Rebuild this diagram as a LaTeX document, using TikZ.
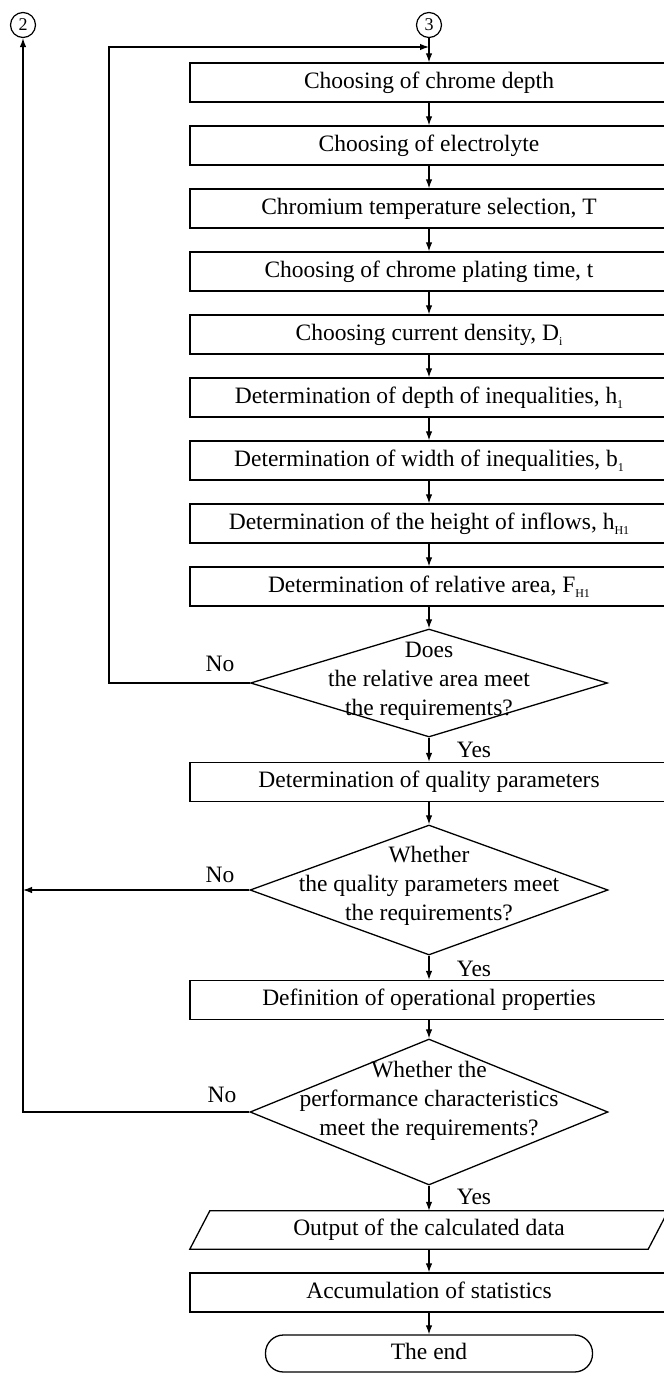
\documentclass[tikz,border=0pt]{standalone}
\usepackage{fontspec}
\setmainfont{Liberation Serif}
\usetikzlibrary{shapes.geometric,arrows.meta}
\newcommand\mysub[1]{\smash{\raisebox{-5pt}{\fontsize{12}{12}\selectfont #1}}}
\begin{document}
\begin{tikzpicture}[x=1pt,y=-1pt,
  txt/.style={font=\fontsize{23.5}{29}\selectfont},
  box/.style={txt,draw,line width=1.3pt,minimum width=478pt,minimum height=39pt,inner sep=0pt,text height=16pt,text depth=5pt},
  dia/.style={draw,shape=diamond,line width=1.3pt,inner sep=0pt},
  dtext/.style={txt,align=center,inner sep=0pt},
  circ/.style={draw,circle,line width=1.2pt,minimum size=25pt,inner sep=0pt,font=\fontsize{18}{18}\selectfont},
  arr/.style={line width=1.2pt,-{Latex[length=9pt,width=6.5pt]}},
  lbl/.style={txt,inner sep=0pt}
]
\useasboundingbox (0,0) rectangle (664,1374);

\node[circ] (c2) at (23,25) {2};
\node[circ] (c3) at (429,25) {3};

\node[box] (b1) at (429,82.5) {Choosing of chrome depth};
\node[box] (b2) at (429,145.5) {Choosing of electrolyte};
\node[box] (b3) at (429,208.5) {Chromium temperature selection, T};
\node[box] (b4) at (429,271.5) {Choosing of chrome plating time, t};
\node[box] (b5) at (429,334.5) {Choosing current density, D\mysub{i}};
\node[box] (b6) at (429,397.5) {Determination of depth of inequalities, h\mysub{1}};
\node[box] (b7) at (429,460.5) {Determination of width of inequalities, b\mysub{1}};
\node[box] (b8) at (429,523.5) {Determination of the height of inflows, h\mysub{H1}};
\node[box] (b9) at (429,586.5) {Determination of relative area, F\mysub{H1}};

\node[dia,minimum width=357pt,minimum height=108pt] (d1) at (429,683) {};
\node[dtext] (t1) at (429,681) {Does\\the relative area meet\\the requirements?};

\node[box] (q) at (429,782) {Determination of quality parameters};

\node[dia,minimum width=358pt,minimum height=130pt] (d2) at (429,890) {};
\node[dtext] (t2) at (429,886) {Whether\\the quality parameters meet\\the requirements?};

\node[box] (op) at (429,1000) {Definition of operational properties};

\node[dia,minimum width=358pt,minimum height=146pt] (d3) at (429,1112) {};
\node[dtext] (t3) at (429,1101) {Whether the\\performance characteristics\\meet the requirements?};

\node[txt,minimum width=478pt,minimum height=38pt,inner sep=0pt,text height=16pt,text depth=5pt] (out) at (429,1230) {Output of the calculated data};
\draw[line width=1.3pt] (out.south west) -- ([xshift=20pt]out.north west) -- (out.north east) -- ([xshift=-20pt]out.south east) -- cycle;

\node[box] (acc) at (429,1292.5) {Accumulation of statistics};
\node[txt,draw,line width=1.3pt,minimum width=327pt,minimum height=37pt,rounded corners=18pt,inner sep=0pt,text height=16pt,text depth=5pt] (end) at (429,1353.5) {The end};

% main flow
\draw[arr] (c3) -- (b1);
\draw[arr] (b1) -- (b2);
\draw[arr] (b2) -- (b3);
\draw[arr] (b3) -- (b4);
\draw[arr] (b4) -- (b5);
\draw[arr] (b5) -- (b6);
\draw[arr] (b6) -- (b7);
\draw[arr] (b7) -- (b8);
\draw[arr] (b8) -- (b9);
\draw[arr] (b9) -- (d1.north);
\draw[arr] (d1.south) -- (q);
\draw[arr] (q) -- (d2.north);
\draw[arr] (d2.south) -- (op);
\draw[arr] (op) -- (d3.north);
\draw[arr] (d3.south) -- (out);
\draw[arr] (out) -- (acc);
\draw[arr] (acc) -- (end);

% loops
\coordinate (l1) at (109,47);
\coordinate (j3) at (429,47);
\draw[arr] (d1.west) -| (l1) -- (j3);
\draw[arr] (d3.west) -| (c2.south);
\draw[arr] (d2.west) -- (d2.west -| c2.south);

% labels
\node[lbl] (no1) at (220,664) {No};
\node[lbl] (no2) at (220,875) {No};
\node[lbl] (no3) at (222,1095) {No};
\node[lbl] (yes1) at (474,750) {Yes};
\node[lbl] (yes2) at (474,969) {Yes};
\node[lbl] (yes3) at (474,1197) {Yes};
\end{tikzpicture}
\end{document}
